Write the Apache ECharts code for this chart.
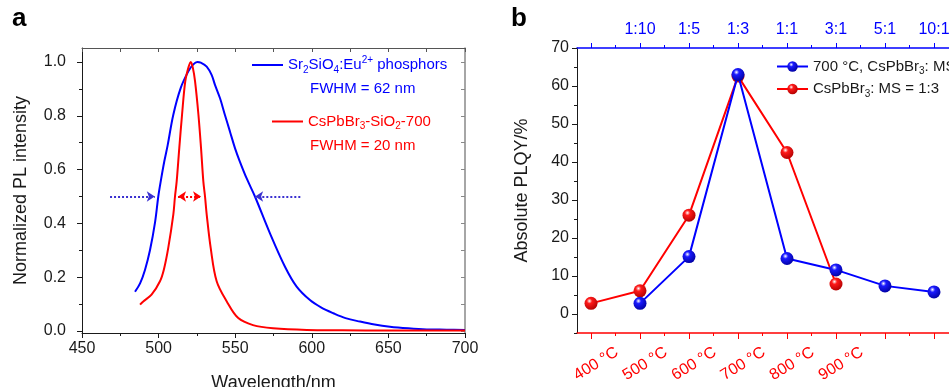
<!DOCTYPE html>
<html><head><meta charset="utf-8">
<script src="https://cdn.jsdelivr.net/npm/echarts@6/dist/echarts.min.js"></script>
<style>html,body{margin:0;padding:0;background:#fff}#c{width:949px;height:387px}</style>
</head><body><div id="c"></div>
<script>
// ---------- Panel a : PL spectra ----------
const wlBlue = [484.6,487.9,491.1,494.4,497.7,499.8,501.5,503.7,505.9,509.6,514.4,519.4,522.5,525.3,527.5,531.4,534.6,536.8,540.1,543.3,546.6,549.9,553.1,557.5,562.9,572.7,582.5,590.1,598.8,606.0,614.1,622.0,631.5,641.0,651.0,663.0,675.0,688.0,700.0];
const plBlue = [0.146,0.177,0.227,0.301,0.405,0.500,0.560,0.630,0.690,0.804,0.903,0.965,0.990,1.000,0.998,0.983,0.952,0.915,0.865,0.803,0.741,0.679,0.629,0.567,0.500,0.363,0.239,0.165,0.115,0.088,0.066,0.048,0.035,0.024,0.016,0.010,0.006,0.005,0.004];
const wlRed = [487.9,490.0,495.4,500.9,503.5,506.3,509.6,510.7,511.8,513.5,515.3,517.4,519.5,521.0,522.3,523.8,526.0,527.7,529.2,530.3,531.4,534.0,537.9,544.5,552.0,561.6,574.7,596.7,620.0,650.0,700.0];
const plRed = [0.098,0.110,0.135,0.185,0.230,0.309,0.433,0.500,0.556,0.680,0.804,0.928,0.980,1.000,0.980,0.928,0.804,0.680,0.556,0.500,0.433,0.309,0.185,0.110,0.048,0.022,0.010,0.004,0.003,0.002,0.002];
const halfMax = 0.5;
const arrowBlueLeft = [468.3, 497.5];
const arrowBlueRight = [592.5, 563.0];
const arrowRed = [512.7, 527.7];
const intensityTicks = [0, 0.2, 0.4, 0.6, 0.8, 1.0];
const intensityMinor = [0.1, 0.3, 0.5, 0.7, 0.9];
const intensityAll = [0,0.1,0.2,0.3,0.4,0.5,0.6,0.7,0.8,0.9,1.0];

// ---------- Panel b : PLQY ----------
const tempTicks = [400, 500, 600, 700, 800, 900, 1000, 1100];
const tempMinor = [450, 550, 650, 750, 850, 950, 1050, 1150];
const tempLabelPos = [400, 500, 600, 700, 800, 900];
const ratioPos = [500, 600, 700, 800, 900, 1000, 1100];
const ratioLabels = ['1:10', '1:5', '1:3', '1:1', '3:1', '5:1', '10:1'];
const msX = [500, 600, 700, 800, 900, 1000, 1100];
const plqyBlue = [2.8, 15.1, 63.0, 14.6, 11.6, 7.4, 5.8];
const tempX = [400, 500, 600, 700, 800, 900];
const plqyRed = [2.8, 6.1, 26.0, 62.6, 42.5, 7.9];
const plqyTicks = [0, 10, 20, 30, 40, 50, 60, 70];
const plqyMinor = [-5, 5, 15, 25, 35, 45, 55, 65];

const FONT = '"Liberation Sans", Arial, Helvetica, sans-serif';
const BLUE = '#0000ff', RED = '#ff0000', INK = '#1a1a1a';

function zip(a, b) { return a.map((v, i) => [v, b[i]]); }
function sphere(base, dark) {
  return { type: 'radial', x: 0.38, y: 0.32, r: 0.72,
    colorStops: [{offset: 0, color: '#ffffff'}, {offset: 0.28, color: base}, {offset: 1, color: dark}] };
}
function rich(color) {
  return {
    n: {fontSize: 15, fontFamily: FONT, color: color, lineHeight: 20, verticalAlign: 'middle'},
    s: {fontSize: 10, fontFamily: FONT, color: color, verticalAlign: 'bottom', lineHeight: 11},
    p: {fontSize: 10, fontFamily: FONT, color: color, verticalAlign: 'top', lineHeight: 11}
  };
}
const noLine = {show: false};

const chart = echarts.init(document.getElementById('c'));
const option = {
  animation: false,
  backgroundColor: '#fff',
  textStyle: {fontFamily: FONT},
  grid: [
    {left: 82, top: 48, width: 383, height: 285, outerBoundsMode: 'none', containLabel: false},
    {left: 577, top: 48, width: 400, height: 285, outerBoundsMode: 'none', containLabel: false}
  ],
  xAxis: [
    { gridIndex: 0, type: 'value', position: 'bottom', min: 450, max: 700, interval: 50,
      name: 'Wavelength/nm', nameLocation: 'middle', nameGap: 41,
      nameTextStyle: {fontSize: 18, color: INK, fontFamily: FONT},
      axisLine: {show: true, onZero: false, lineStyle: {color: INK, width: 1}},
      axisTick: {show: true, inside: false, length: 5, lineStyle: {color: INK}},
      minorTick: {show: true, splitNumber: 2, length: 3, lineStyle: {color: INK}},
      axisLabel: {fontSize: 16, color: INK, margin: 8, fontFamily: FONT},
      splitLine: noLine, minorSplitLine: noLine },
    { gridIndex: 0, type: 'value', position: 'top', min: 450, max: 700, interval: 25,
      axisLine: {show: true, onZero: false, lineStyle: {color: '#555', width: 1}},
      axisTick: {show: true, inside: true, length: 4, lineStyle: {color: '#555'}},
      axisLabel: {show: false}, splitLine: noLine },
    { gridIndex: 1, type: 'value', position: 'bottom', min: 371.4, max: 1187.8,
      axisLine: {show: true, onZero: false, lineStyle: {color: RED, width: 1.5}},
      axisTick: {show: true, inside: false, length: 6, customValues: tempTicks, lineStyle: {color: RED}},
      axisLabel: {show: true, customValues: tempLabelPos, formatter: v => v + ' °C',
        rotate: 32, align: 'center', verticalAlign: 'middle', margin: 34, padding: [0, 0, 0, 12],
        fontSize: 16, color: RED, fontFamily: FONT},
      splitLine: noLine },
    { gridIndex: 1, type: 'value', position: 'bottom', min: 371.4, max: 1187.8,
      axisLine: {show: false, onZero: false},
      axisTick: {show: true, inside: false, length: 3, customValues: tempMinor, lineStyle: {color: RED}},
      axisLabel: {show: false}, splitLine: noLine },
    { gridIndex: 1, type: 'value', position: 'top', min: 371.4, max: 1187.8,
      axisLine: {show: true, onZero: false, lineStyle: {color: BLUE, width: 1.5}},
      axisTick: {show: true, inside: false, length: 5, customValues: tempTicks, lineStyle: {color: BLUE}},
      axisLabel: {show: true, customValues: ratioPos,
        formatter: v => { const i = ratioPos.indexOf(Math.round(v)); return i >= 0 ? ratioLabels[i] : ''; },
        margin: 10, fontSize: 16, color: BLUE, fontFamily: FONT},
      splitLine: noLine },
    { gridIndex: 1, type: 'value', position: 'top', min: 371.4, max: 1187.8,
      axisLine: {show: false, onZero: false},
      axisTick: {show: true, inside: false, length: 3, customValues: tempMinor, lineStyle: {color: BLUE}},
      axisLabel: {show: false}, splitLine: noLine }
  ],
  yAxis: [
    { gridIndex: 0, type: 'value', position: 'left', min: -0.0074, max: 1.052,
      name: 'Normalized PL intensity', nameLocation: 'middle', nameGap: 52, nameRotate: 90,
      nameTextStyle: {fontSize: 18, color: INK, fontFamily: FONT},
      axisLine: {show: true, onZero: false, lineStyle: {color: INK, width: 1}},
      axisTick: {show: true, inside: false, length: 5, customValues: intensityTicks, lineStyle: {color: INK}},
      axisLabel: {show: true, customValues: intensityTicks, formatter: v => v.toFixed(1),
        fontSize: 16, color: INK, margin: 16, fontFamily: FONT},
      splitLine: noLine },
    { gridIndex: 0, type: 'value', position: 'left', min: -0.0074, max: 1.052,
      axisLine: {show: false, onZero: false},
      axisTick: {show: true, inside: false, length: 3, customValues: intensityMinor, lineStyle: {color: INK}},
      axisLabel: {show: false}, splitLine: noLine },
    { gridIndex: 0, type: 'value', position: 'right', min: -0.0074, max: 1.052,
      axisLine: {show: true, onZero: false, lineStyle: {color: '#888', width: 1.5}},
      axisTick: {show: true, inside: true, length: 4, customValues: intensityAll, lineStyle: {color: '#888'}},
      axisLabel: {show: false}, splitLine: noLine },
    { gridIndex: 1, type: 'value', position: 'left', min: -5, max: 70,
      name: 'Absolute PLQY/%', nameLocation: 'middle', nameGap: 46, nameRotate: 90,
      nameTextStyle: {fontSize: 18, color: INK, fontFamily: FONT},
      axisLine: {show: true, onZero: false, lineStyle: {color: INK, width: 1}},
      axisTick: {show: true, inside: false, length: 5, customValues: plqyTicks, lineStyle: {color: INK}},
      axisLabel: {show: true, customValues: plqyTicks, fontSize: 16, color: INK, margin: 8, fontFamily: FONT},
      splitLine: noLine },
    { gridIndex: 1, type: 'value', position: 'left', min: -5, max: 70,
      axisLine: {show: false, onZero: false},
      axisTick: {show: true, inside: false, length: 3, customValues: plqyMinor, lineStyle: {color: INK}},
      axisLabel: {show: false}, splitLine: noLine }
  ],
  legend: [
    { data: [{name: 'Sr2SiO4:Eu2+ phosphors', icon: 'rect'}], left: 252, top: 55, itemWidth: 31, itemHeight: 2,
      selectedMode: false, padding: 0, itemStyle: {color: BLUE, borderWidth: 0},
      formatter: () => '{n|Sr}{s|2}{n|SiO}{s|4}{n|:Eu}{p|2+}{n| phosphors}',
      textStyle: {color: BLUE, rich: rich(BLUE)} },
    { data: [{name: 'CsPbBr3-SiO2-700', icon: 'rect'}], left: 272, top: 114, itemWidth: 31, itemHeight: 2,
      selectedMode: false, padding: 0, itemStyle: {color: RED, borderWidth: 0},
      formatter: () => '{n|CsPbBr}{s|3}{n|-SiO}{s|2}{n|-700}',
      textStyle: {color: RED, rich: rich(RED)} },
    { data: ['700 °C, CsPbBr3: MS', 'CsPbBr3: MS = 1:3'], left: 776, top: 59, orient: 'vertical',
      itemWidth: 31, itemHeight: 13, itemGap: 5, selectedMode: false, padding: 0,
      formatter: name => name.startsWith('700')
        ? '{n|700 °C, CsPbBr}{s|3}{n|: MS}'
        : '{n|CsPbBr}{s|3}{n|: MS = 1:3}',
      textStyle: {color: INK, rich: rich(INK)} }
  ],
  graphic: [
    {type: 'text', left: 12, top: 6, style: {text: 'a', font: 'bold 26px ' + FONT, fill: '#000'}},
    {type: 'text', left: 511, top: 6, style: {text: 'b', font: 'bold 26px ' + FONT, fill: '#000'}},
    {type: 'text', left: 310, top: 81, style: {text: 'FWHM = 62 nm', font: '15px ' + FONT, fill: BLUE}},
    {type: 'text', left: 310, top: 138, style: {text: 'FWHM = 20 nm', font: '15px ' + FONT, fill: RED}}
  ],
  series: [
    { name: 'Sr2SiO4:Eu2+ phosphors', type: 'line', xAxisIndex: 0, yAxisIndex: 0,
      data: zip(wlBlue, plBlue), showSymbol: false, symbol: 'none', smooth: 0.35,
      lineStyle: {color: BLUE, width: 2}, itemStyle: {color: BLUE}, z: 3,
      markLine: { silent: true, symbol: ['none', 'arrow'], symbolSize: [8, 8], label: {show: false},
        lineStyle: {color: '#3a30d0', width: 2, type: [2, 2]},
        data: [
          [{coord: [arrowBlueLeft[0], halfMax]}, {coord: [arrowBlueLeft[1], halfMax]}],
          [{coord: [arrowBlueRight[0], halfMax]}, {coord: [arrowBlueRight[1], halfMax]}]
        ] } },
    { name: 'CsPbBr3-SiO2-700', type: 'line', xAxisIndex: 0, yAxisIndex: 0,
      data: zip(wlRed, plRed), showSymbol: false, symbol: 'none', smooth: 0.35,
      lineStyle: {color: RED, width: 2}, itemStyle: {color: RED}, z: 4,
      markLine: { silent: true, symbol: ['arrow', 'arrow'], symbolSize: [8, 8], label: {show: false},
        lineStyle: {color: RED, width: 2, type: [2, 2]},
        data: [[{coord: [arrowRed[0], halfMax]}, {coord: [arrowRed[1], halfMax]}]] } },
    { name: 'CsPbBr3: MS = 1:3', type: 'line', xAxisIndex: 2, yAxisIndex: 3,
      data: zip(tempX, plqyRed), symbol: 'circle', symbolSize: 13, showSymbol: true,
      lineStyle: {color: RED, width: 2}, itemStyle: {color: sphere('#ff1a1a', '#b00000')}, z: 3 },
    { name: '700 °C, CsPbBr3: MS', type: 'line', xAxisIndex: 2, yAxisIndex: 3,
      data: zip(msX, plqyBlue), symbol: 'circle', symbolSize: 13, showSymbol: true,
      lineStyle: {color: BLUE, width: 2}, itemStyle: {color: sphere('#1a1aff', '#0000a0')}, z: 4 }
  ]
};
chart.setOption(option);
</script>
</body></html>
